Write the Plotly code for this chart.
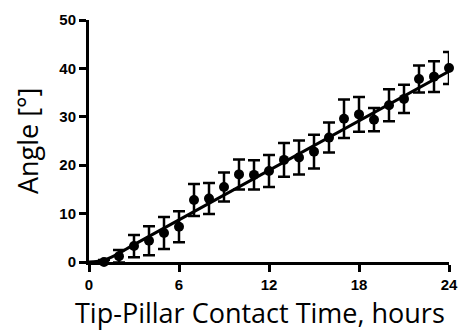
import plotly.graph_objects as go

hours = list(range(1, 25))
angle = [0.0, 1.2, 3.3, 4.4, 6.0, 7.3, 12.8, 13.1, 15.5, 18.1, 18.0, 18.8,
         21.1, 21.6, 22.8, 25.7, 29.6, 30.5, 29.4, 32.4, 33.7, 37.8, 38.3, 40.1]
err = [0.4, 1.3, 2.3, 3.0, 3.3, 3.2, 3.3, 3.2, 3.0, 3.1, 3.0, 3.3,
       3.5, 3.5, 3.5, 3.1, 4.0, 3.6, 2.4, 3.3, 2.9, 2.8, 3.2, 3.3]

fit_x = [0, 0.5, 1, 1.5, 2, 3, 24]
fit_y = [0, 0.1, 0.4, 1.0, 1.8, 3.6, 39.4]

x_ticks = [0, 6, 12, 18, 24]
y_ticks = [0, 10, 20, 30, 40, 50]

x_title = "Tip-Pillar Contact Time, hours"
y_title = "Angle [°]"

fig = go.Figure()
fig.add_trace(go.Scatter(
    x=fit_x, y=fit_y, mode="lines", line=dict(color="black", width=3, shape="spline"),
    hoverinfo="skip", cliponaxis=False, showlegend=False))
fig.add_trace(go.Scatter(
    x=hours, y=angle, mode="markers",
    marker=dict(color="black", size=10),
    error_y=dict(type="data", array=err, visible=True, color="black", thickness=2.5, width=6),
    cliponaxis=False, showlegend=False))

tick_font = dict(family="Liberation Sans, Arial", size=15, color="black", weight="bold")
title_font = dict(family="Open Sans, Noto Sans", size=27, color="black")
common = dict(showgrid=False, zeroline=False, showline=True, linecolor="black", linewidth=3,
              ticks="outside", ticklen=7, tickwidth=3, tickcolor="black",
              tickfont=tick_font, automargin=False)
fig.update_layout(
    width=458, height=331,
    margin=dict(l=89, r=9, t=20, b=69),
    paper_bgcolor="white", plot_bgcolor="white",
    xaxis=dict(range=[0, 24], tickvals=x_ticks, ticktext=[str(v) for v in x_ticks], **common),
    yaxis=dict(range=[0, 50], tickvals=y_ticks, ticktext=[str(v) for v in y_ticks], **common),
    annotations=[
        dict(text=x_title, xref="paper", yref="paper", x=0.476, y=-0.21,
             xanchor="center", yanchor="middle", showarrow=False, font=title_font),
        dict(text=y_title, xref="paper", yref="paper", x=-0.172, y=0.5, textangle=-90,
             xanchor="center", yanchor="middle", showarrow=False, font=title_font),
    ],
)
fig.write_html("out.html", config={"displayModeBar": False},
               post_script="document.body.style.margin='0';document.body.style.overflow='hidden';")
